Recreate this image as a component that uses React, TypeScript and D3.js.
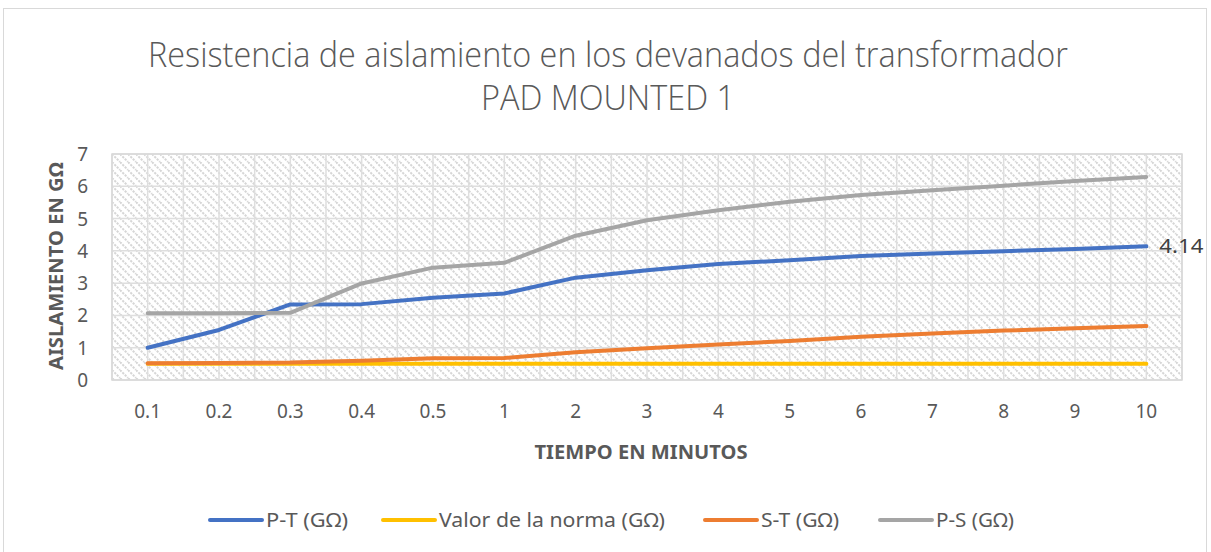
import React from 'react';
import * as d3 from 'd3';

const categories = ['0.1', '0.2', '0.3', '0.4', '0.5', '1', '2', '3', '4', '5', '6', '7', '8', '9', '10'];
const ptValues = [1.0, 1.55, 2.34, 2.35, 2.55, 2.68, 3.17, 3.4, 3.59, 3.71, 3.84, 3.92, 3.99, 4.06, 4.14];
const normaValues = [0.5, 0.5, 0.5, 0.5, 0.5, 0.5, 0.5, 0.5, 0.5, 0.5, 0.5, 0.5, 0.5, 0.5, 0.5];
const stValues = [0.52, 0.53, 0.54, 0.6, 0.67, 0.68, 0.86, 0.98, 1.1, 1.21, 1.34, 1.44, 1.53, 1.6, 1.67];
const psValues = [2.07, 2.07, 2.08, 2.99, 3.48, 3.63, 4.47, 4.95, 5.26, 5.52, 5.73, 5.88, 6.02, 6.16, 6.29];
const yTicks = [0, 1, 2, 3, 4, 5, 6, 7];

const series = [
  { name: 'P-T (GΩ)', values: ptValues, color: '#4472C4' },
  { name: 'Valor de la norma (GΩ)', values: normaValues, color: '#FFC000' },
  { name: 'S-T (GΩ)', values: stValues, color: '#ED7D31' },
  { name: 'P-S (GΩ)', values: psValues, color: '#A5A5A5' },
];

const width = 1211;
const height = 552;
const margin = { top: 154, right: 29, bottom: 172, left: 112 };
const font = '"Noto Sans", "Open Sans", sans-serif';
const titleFont = '"Open Sans", "Noto Sans", sans-serif';
const textColor = '#595959';

export default function App() {
  const innerW = width - margin.left - margin.right;
  const innerH = height - margin.top - margin.bottom;

  const x = d3.scalePoint<string>().domain(categories).range([0, innerW]).padding(0.5);
  const y = d3.scaleLinear().domain([0, 7]).range([innerH, 0]);
  const step = x.step();

  // vertical gridlines every half category
  const vLines = d3.range(0, categories.length * 2 + 1).map(k => (k * step) / 2);

  const line = d3.line<number>()
    .x((_, i) => x(categories[i]) as number)
    .y(d => y(d));

  // legend layout (x start, text width)
  const legendX = [210, 383, 705, 880];
  const legendW = [82, 226, 78, 78];
  const legendY = 520;

  const lastX = x(categories[categories.length - 1]) as number;
  const lastPt = ptValues[ptValues.length - 1];

  return (
    <svg width={width} height={height} style={{ position: 'absolute', left: 0, top: 0, background: '#fff' }}>
      <defs>
        <pattern id="hatch" width="8" height="8" patternUnits="userSpaceOnUse">
          <rect width="8" height="8" fill="#fff" />
          <path d="M0,0 L8,8 M-4,4 L4,12 M4,-4 L12,4" stroke="#d6d6d6" strokeWidth="2" strokeDasharray="2.2,1.2" />
        </pattern>
      </defs>
      <rect x={3.5} y={8.5} width={1203} height={560} fill="#fff" stroke="#d9d9d9" strokeWidth={1} />

      {/* title */}
      <text x={608} y={67} textAnchor="middle" fontFamily={titleFont} fontSize={34} fontWeight={300} fill={textColor}
        textLength={920} lengthAdjust="spacingAndGlyphs">
        Resistencia de aislamiento en los devanados del transformador
      </text>
      <text x={608} y={110} textAnchor="middle" fontFamily={titleFont} fontSize={34} fontWeight={300} fill={textColor}
        textLength={254} lengthAdjust="spacingAndGlyphs">
        PAD MOUNTED 1
      </text>

      <g transform={`translate(${margin.left},${margin.top})`}>
        <rect x={0} y={0} width={innerW} height={innerH} fill="url(#hatch)" />
        {yTicks.map(t => (
          <line key={'h' + t} x1={0} x2={innerW} y1={y(t)} y2={y(t)} stroke="#dedede" strokeWidth={1.5} />
        ))}
        {vLines.map((v, i) => (
          <line key={'v' + i} x1={v} x2={v} y1={0} y2={innerH} stroke="#dedede" strokeWidth={1.5} />
        ))}
        <rect x={0} y={0} width={innerW} height={innerH} fill="none" stroke="#d9d9d9" strokeWidth={1.5} />

        {series.map(s => (
          <path key={s.name} d={line(s.values) || ''} fill="none" stroke={s.color} strokeWidth={4}
            strokeLinecap="round" strokeLinejoin="round" />
        ))}

        <text x={lastX + 13} y={y(lastPt) + 7} fontFamily={font} fontSize={20} fill="#404040" textLength={44}
          lengthAdjust="spacingAndGlyphs">
          {lastPt.toFixed(2)}
        </text>

        {yTicks.map(t => (
          <text key={'yt' + t} x={-24} y={y(t) + 7} textAnchor="end" fontFamily={font} fontSize={19} fill={textColor}>
            {t}
          </text>
        ))}
        {categories.map(c => (
          <text key={'xt' + c} x={x(c) as number} y={innerH + 38} textAnchor="middle" fontFamily={font} fontSize={19} fill={textColor}>
            {c}
          </text>
        ))}

        <text x={innerW / 2 - 6} y={innerH + 79} textAnchor="middle" fontFamily={font} fontSize={20} fontWeight="bold" fill={textColor}
          textLength={213} lengthAdjust="spacingAndGlyphs">
          TIEMPO EN MINUTOS
        </text>
        <text transform={`translate(-49,${innerH / 2 - 1}) rotate(-90)`} textAnchor="middle" fontFamily={font} fontSize={20}
          fontWeight="bold" fill={textColor} textLength={208} lengthAdjust="spacingAndGlyphs">
          AISLAMIENTO EN GΩ
        </text>
      </g>

      {series.map((s, i) => (
        <g key={'lg' + i} transform={`translate(${legendX[i]},${legendY})`}>
          <line x1={0} x2={52} y1={0} y2={0} stroke={s.color} strokeWidth={4} strokeLinecap="round" />
          <text x={56} y={7} fontFamily={font} fontSize={20} fill={textColor} textLength={legendW[i]}
            lengthAdjust="spacingAndGlyphs">{s.name}</text>
        </g>
      ))}
    </svg>
  );
}
